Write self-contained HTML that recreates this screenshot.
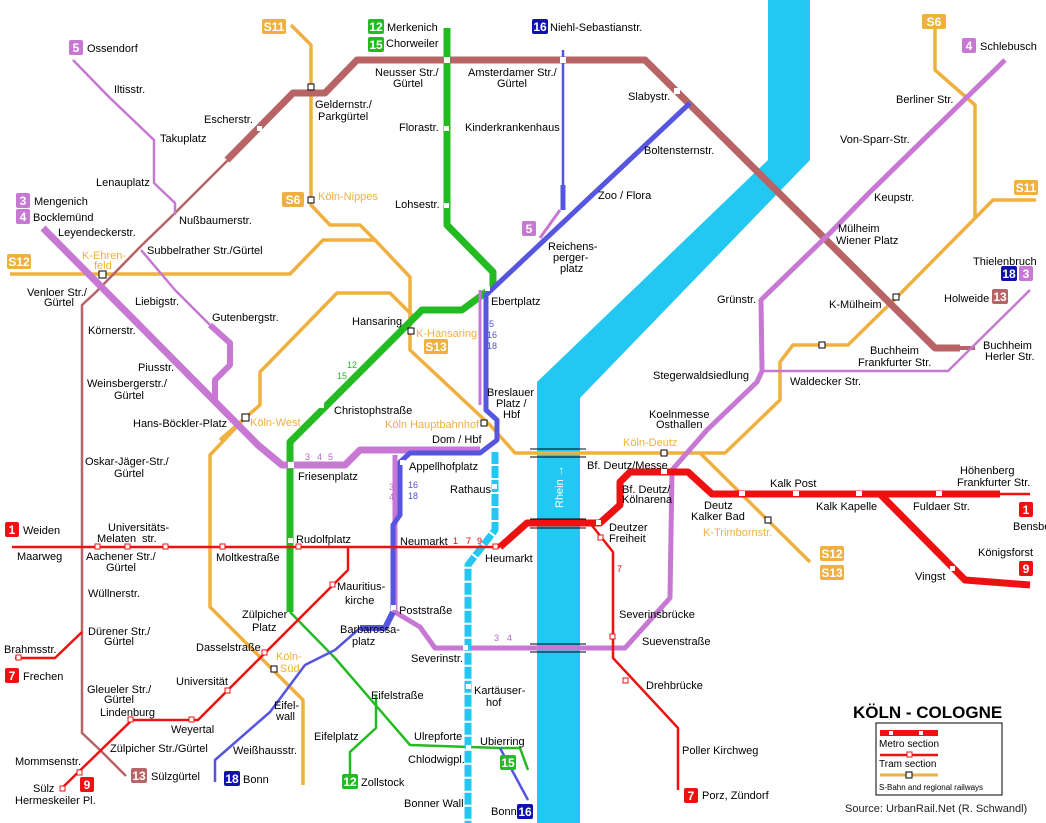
<!DOCTYPE html>
<html><head><meta charset="utf-8"><style>
html,body{margin:0;padding:0;background:#fff;width:1046px;height:823px;overflow:hidden}
svg{display:block}
text{font-family:"Liberation Sans",sans-serif;font-size:11px;fill:#000}
.o{fill:#f0b040}
.nb{font-weight:bold;fill:#fff;font-size:12px;text-anchor:middle}
.g{fill:#22bb22;font-size:9px}
.p{fill:#b070c0;font-size:9px}
.b{fill:#5050d0;font-size:9px}
.r{fill:#ee0000;font-size:9px}
</style></head><body>
<svg width="1046" height="823" viewBox="0 0 1046 823" xmlns="http://www.w3.org/2000/svg">
<g fill="none" stroke-linejoin="round">
<!-- river -->
<polygon points="768,0 810,0 810,160 580,398 580,823 537,823 537,382 768,160" fill="#22c8f2" stroke="none"/>
<!-- orange S-Bahn -->
<g stroke="#f0b040" stroke-width="3.5">
<polyline points="291,25 311,45 311,205 330,225 360,225 375,240 410,277 410,350 490,425 515,453 700,453"/>
<polyline points="10,274 290,274 323,240 375,240"/>
<polyline points="220,440 245,418 260,405 260,372 337,293 390,293 412,315"/>
<polyline points="245,418 210,455 210,607 303,700 303,785"/>
<polyline points="935,28 935,70 975,105 975,218"/>
<polyline points="700,453 725,453 780,400 780,362 793,345 848,345 897,297 993,200 1036,200"/>
<polyline points="700,453 810,562"/>
</g>
<!-- brown -->
<g stroke="#b86466">
<polyline points="228,160 173,215 141,246 95,293 82,305 82,733 100,750 126,776" stroke-width="2.5"/>
<polyline points="227,160 293,93 325,93 357,60 645,60 935,348 960,348" stroke-width="7"/>
<polyline points="960,348 975,348" stroke-width="4"/>
</g>
<!-- green -->
<g stroke="#22bb22">
<polyline points="447,28 447,225 493,272 493,287 462,310 422,310 290,442 290,612" stroke-width="7"/>
<polyline points="290,612 335,658 410,745 500,748 520,748 528,770" stroke-width="2.5"/>
<polyline points="376,695 376,728 350,752 350,775" stroke-width="2.5"/>
</g>
<!-- lilac -->
<g stroke="#c678d2">
<polyline points="73,60 109,97 154,140 154,183 175,203 175,215" stroke-width="2.5"/>
<polyline points="141,250 175,290 210,325" stroke-width="2.5"/>
<polyline points="210,325 230,343 230,365 215,380 215,400" stroke-width="6"/>
<polyline points="43,228 258,445 282,465 345,465 360,450 480,450" stroke-width="7"/>
<polyline points="480,290 480,405" stroke-width="3"/>
<polyline points="395,455 395,612 420,627 435,648 625,648 670,598 672,470 707,430 757,382 762,371 761,300 830,233 870,192 1005,60" stroke-width="5"/>
<polyline points="762,371 948,371 1030,290" stroke-width="2.5"/>
<polyline points="540,238 560,210" stroke-width="3"/>
</g>
<!-- blue -->
<g stroke="#5555e0">
<polyline points="563,50 563,185" stroke-width="2.5"/>
<polyline points="563,185 563,210" stroke-width="5"/>
<polyline points="690,103 486,295 486,410 497,420 497,440 480,453 410,453 400,462 400,515 393,525 393,610" stroke-width="5"/>
<polyline points="393,612 385,628 360,628" stroke-width="6"/>
<polyline points="360,628 335,650 305,665 270,712 215,760 215,782" stroke-width="2.5"/>
<polyline points="500,748 528,800" stroke-width="2.5"/>
</g>
<!-- cyan dashed -->
<polyline points="495,450 495,530 468,565 468,823" stroke="#22c8f2" stroke-width="7"/>
<polyline points="495,450 495,530 468,565 468,823" stroke="#fff" stroke-width="7" stroke-dasharray="2,12"/>
<!-- red -->
<g stroke="#ee1111">
<polyline points="12,547 500,547" stroke-width="2.5"/>
<polyline points="500,547 527,523 600,523 620,505 620,482 630,472 688,472 712,494 1000,494" stroke-width="7"/>
<polyline points="1000,494 1030,494" stroke-width="2.5"/>
<polyline points="880,494 965,580 1030,585" stroke-width="7"/>
<polyline points="590,523 613,552 613,658 678,728 678,790" stroke-width="2.5"/>
<polyline points="348,548 348,570 228,690 198,720 132,720 62,788" stroke-width="2.5"/>
<polyline points="82,632 55,658 15,658" stroke-width="2.5"/>
</g>
<!-- bridge marks -->
<g stroke="#000" stroke-width="1">
<line x1="530" y1="449" x2="586" y2="449"/><line x1="530" y1="457" x2="586" y2="457"/>
<line x1="530" y1="519" x2="586" y2="519"/><line x1="530" y1="528" x2="586" y2="528"/>
<line x1="530" y1="644" x2="586" y2="644"/><line x1="530" y1="652" x2="586" y2="652"/>
</g>
</g>
<!-- station markers -->
<g fill="#fff" stroke-width="1">
<g stroke="#000"><rect x="308" y="84" width="6" height="6"/><rect x="308" y="197" width="6" height="6"/><rect x="99" y="271" width="7" height="7"/><rect x="408" y="328" width="6" height="6"/><rect x="481" y="420" width="6" height="6"/><rect x="242" y="414" width="7" height="7"/><rect x="271" y="666" width="6" height="6"/><rect x="661" y="450" width="6" height="6"/><rect x="893" y="294" width="6" height="6"/><rect x="819" y="342" width="6" height="6"/><rect x="765" y="517" width="6" height="6"/></g>
<g stroke="#ee1111"><rect x="95" y="544" width="5" height="5"/><rect x="125" y="544" width="5" height="5"/><rect x="163" y="544" width="5" height="5"/><rect x="220" y="544" width="5" height="5"/><rect x="296" y="544" width="5" height="5"/><rect x="493" y="544" width="5" height="5"/><rect x="330" y="582" width="5" height="5"/><rect x="262" y="650" width="5" height="5"/><rect x="225" y="688" width="5" height="5"/><rect x="189" y="717" width="5" height="5"/><rect x="128" y="717" width="5" height="5"/><rect x="77" y="770" width="5" height="5"/><rect x="60" y="786" width="5" height="5"/><rect x="610" y="634" width="5" height="5"/><rect x="598" y="535" width="5" height="5"/><rect x="16" y="655" width="5" height="5"/><rect x="623" y="678" width="5" height="5"/></g>
<rect x="739" y="491" width="6" height="5"/><rect x="793" y="491" width="6" height="5"/><rect x="856" y="491" width="6" height="5"/><rect x="936" y="491" width="6" height="5"/><rect x="661" y="469" width="6" height="5"/><rect x="950" y="566" width="5" height="5"/><rect x="596" y="520" width="5" height="5"/>
<rect x="444" y="57" width="6" height="6"/><rect x="560" y="57" width="6" height="6"/><rect x="674" y="88" width="6" height="6"/><rect x="444" y="126" width="5" height="5"/><rect x="444" y="203" width="5" height="5"/><rect x="288" y="462" width="6" height="6"/><rect x="288" y="538" width="5" height="5"/><rect x="319" y="403" width="5" height="5"/><rect x="485" y="286" width="5" height="5"/><rect x="400" y="460" width="5" height="5"/><rect x="492" y="484" width="5" height="5"/><rect x="466" y="684" width="5" height="5"/><rect x="466" y="745" width="5" height="5"/><rect x="391" y="605" width="5" height="5"/><rect x="463" y="645" width="5" height="5"/><rect x="257" y="126" width="5" height="5"/><rect x="213" y="416" width="5" height="5"/>
</g>
<!-- number boxes -->
<g>
<rect x="262" y="19" width="24" height="15" rx="2" fill="#f0b040"/><text x="274" y="31" class="nb">S11</text>
<rect x="368" y="19" width="16" height="15" rx="2" fill="#22bb22"/><text x="376" y="31" class="nb">12</text>
<rect x="368" y="37" width="16" height="15" rx="2" fill="#22bb22"/><text x="376" y="49" class="nb">15</text>
<rect x="532" y="19" width="16" height="15" rx="2" fill="#1010b0"/><text x="540" y="31" class="nb">16</text>
<rect x="69" y="40" width="14" height="15" rx="2" fill="#c678d2"/><text x="76" y="52" class="nb">5</text>
<rect x="922" y="14" width="24" height="15" rx="2" fill="#f0b040"/><text x="934" y="26" class="nb">S6</text>
<rect x="962" y="38" width="14" height="15" rx="2" fill="#c678d2"/><text x="969" y="50" class="nb">4</text>
<rect x="16" y="193" width="14" height="15" rx="2" fill="#c678d2"/><text x="23" y="205" class="nb">3</text>
<rect x="16" y="209" width="14" height="15" rx="2" fill="#c678d2"/><text x="23" y="221" class="nb">4</text>
<rect x="282" y="192" width="22" height="15" rx="2" fill="#f0b040"/><text x="293" y="204" class="nb">S6</text>
<rect x="7" y="254" width="24" height="15" rx="2" fill="#f0b040"/><text x="19" y="266" class="nb">S12</text>
<rect x="1014" y="180" width="24" height="15" rx="2" fill="#f0b040"/><text x="1026" y="192" class="nb">S11</text>
<rect x="522" y="221" width="14" height="15" rx="2" fill="#c678d2"/><text x="529" y="233" class="nb">5</text>
<rect x="1001" y="266" width="16" height="15" rx="2" fill="#1010b0"/><text x="1009" y="278" class="nb">18</text>
<rect x="1019" y="266" width="14" height="15" rx="2" fill="#c678d2"/><text x="1026" y="278" class="nb">3</text>
<rect x="992" y="289" width="16" height="15" rx="2" fill="#b86466"/><text x="1000" y="301" class="nb">13</text>
<rect x="424" y="339" width="24" height="15" rx="2" fill="#f0b040"/><text x="436" y="351" class="nb">S13</text>
<rect x="5" y="522" width="14" height="15" rx="2" fill="#ee1111"/><text x="12" y="534" class="nb">1</text>
<rect x="1019" y="502" width="14" height="15" rx="2" fill="#ee1111"/><text x="1026" y="514" class="nb">1</text>
<rect x="1019" y="561" width="14" height="15" rx="2" fill="#ee1111"/><text x="1026" y="573" class="nb">9</text>
<rect x="820" y="546" width="24" height="15" rx="2" fill="#f0b040"/><text x="832" y="558" class="nb">S12</text>
<rect x="820" y="565" width="24" height="15" rx="2" fill="#f0b040"/><text x="832" y="577" class="nb">S13</text>
<rect x="5" y="668" width="14" height="15" rx="2" fill="#ee1111"/><text x="12" y="680" class="nb">7</text>
<rect x="80" y="777" width="14" height="15" rx="2" fill="#ee1111"/><text x="87" y="789" class="nb">9</text>
<rect x="131" y="768" width="16" height="15" rx="2" fill="#b86466"/><text x="139" y="780" class="nb">13</text>
<rect x="224" y="771" width="16" height="15" rx="2" fill="#1010b0"/><text x="232" y="783" class="nb">18</text>
<rect x="342" y="774" width="16" height="15" rx="2" fill="#22bb22"/><text x="350" y="786" class="nb">12</text>
<rect x="500" y="755" width="16" height="15" rx="2" fill="#22bb22"/><text x="508" y="767" class="nb">15</text>
<rect x="517" y="804" width="16" height="15" rx="2" fill="#1010b0"/><text x="525" y="816" class="nb">16</text>
<rect x="684" y="788" width="14" height="15" rx="2" fill="#ee1111"/><text x="691" y="800" class="nb">7</text>
</g>
<!-- labels -->
<g>
<text x="387" y="31">Merkenich</text><text x="386" y="47">Chorweiler</text><text x="550" y="31">Niehl-Sebastianstr.</text>
<text x="87" y="52">Ossendorf</text><text x="980" y="50">Schlebusch</text>
<text x="375" y="76">Neusser Str./</text><text x="393" y="87">Gürtel</text>
<text x="468" y="76">Amsterdamer Str./</text><text x="497" y="87">Gürtel</text>
<text x="114" y="93">Iltisstr.</text><text x="315" y="108">Geldernstr./</text><text x="318" y="120">Parkgürtel</text>
<text x="628" y="100">Slabystr.</text><text x="896" y="103">Berliner Str.</text>
<text x="204" y="123">Escherstr.</text><text x="399" y="131">Florastr.</text><text x="465" y="131">Kinderkrankenhaus</text>
<text x="160" y="142">Takuplatz</text><text x="644" y="154">Boltensternstr.</text><text x="840" y="143">Von-Sparr-Str.</text>
<text x="96" y="186">Lenauplatz</text><text x="598" y="199">Zoo / Flora</text><text x="874" y="201">Keupstr.</text>
<text x="318" y="200" class="o">Köln-Nippes</text><text x="395" y="208">Lohsestr.</text>
<text x="34" y="205">Mengenich</text><text x="33" y="221">Bocklemünd</text><text x="179" y="224">Nußbaumerstr.</text>
<text x="58" y="236">Leyendeckerstr.</text><text x="838" y="232">Mülheim</text><text x="836" y="244">Wiener Platz</text>
<text x="548" y="250">Reichens-</text><text x="553" y="261">perger-</text><text x="560" y="272">platz</text>
<text x="147" y="254">Subbelrather Str./Gürtel</text><text x="82" y="259" class="o">K-Ehren-</text><text x="94" y="269" class="o">feld</text>
<text x="973" y="265">Thielenbruch</text>
<text x="27" y="296">Venloer Str./</text><text x="44" y="306">Gürtel</text><text x="135" y="305">Liebigstr.</text><text x="491" y="305">Ebertplatz</text>
<text x="717" y="303">Grünstr.</text><text x="829" y="308">K-Mülheim</text><text x="944" y="302">Holweide</text>
<text x="212" y="321">Gutenbergstr.</text><text x="352" y="325">Hansaring</text><text x="416" y="337" class="o">K-Hansaring</text>
<text x="88" y="334">Körnerstr.</text><text x="983" y="349">Buchheim</text><text x="985" y="360">Herler Str.</text>
<text x="870" y="354">Buchheim</text><text x="858" y="366">Frankfurter Str.</text>
<text x="138" y="371">Piusstr.</text><text x="653" y="379">Stegerwaldsiedlung</text><text x="790" y="385">Waldecker Str.</text>
<text x="87" y="387">Weinsbergerstr./</text><text x="114" y="399">Gürtel</text>
<text x="487" y="396">Breslauer</text><text x="496" y="407">Platz /</text><text x="503" y="418">Hbf</text>
<text x="334" y="414">Christophstraße</text><text x="649" y="418">Koelnmesse</text><text x="656" y="428">Osthallen</text>
<text x="133" y="427">Hans-Böckler-Platz</text><text x="250" y="426" class="o">Köln-West</text>
<text x="385" y="428" class="o">Köln Hauptbahnhof</text><text x="432" y="443">Dom / Hbf</text><text x="623" y="446" class="o">Köln-Deutz</text>
<text x="85" y="465">Oskar-Jäger-Str./</text><text x="114" y="477">Gürtel</text>
<text x="298" y="480">Friesenplatz</text><text x="409" y="470">Appellhofplatz</text><text x="587" y="469">Bf. Deutz/Messe</text>
<text x="960" y="474">Höhenberg</text><text x="957" y="486">Frankfurter Str.</text>
<text x="450" y="493">Rathaus</text><text x="622" y="493">Bf. Deutz/</text><text x="622" y="503">Kölnarena</text><text x="770" y="487">Kalk Post</text>
<text x="704" y="509">Deutz</text><text x="691" y="520">Kalker Bad</text><text x="816" y="510">Kalk Kapelle</text><text x="913" y="510">Fuldaer Str.</text>
<text x="23" y="534">Weiden</text><text x="108" y="531">Universitäts-</text><text x="142" y="542">str.</text><text x="97" y="542">Melaten</text>
<text x="609" y="531">Deutzer</text><text x="609" y="542">Freiheit</text><text x="703" y="536" class="o">K-Trimbornstr.</text><text x="1013" y="530">Bensberg</text>
<text x="296" y="543">Rudolfplatz</text><text x="400" y="545">Neumarkt</text><text x="453" y="544" class="r">1</text><text x="466" y="544" class="r">7</text><text x="477" y="544" class="r">9</text>
<text x="17" y="560">Maarweg</text><text x="86" y="560">Aachener Str./</text><text x="106" y="571">Gürtel</text><text x="216" y="561">Moltkestraße</text>
<text x="485" y="562">Heumarkt</text><text x="978" y="556">Königsforst</text><text x="915" y="580">Vingst</text>
<text x="88" y="597">Wüllnerstr.</text><text x="337" y="590">Mauritius-</text><text x="345" y="604">kirche</text>
<text x="242" y="618">Zülpicher</text><text x="252" y="631">Platz</text><text x="399" y="614">Poststraße</text><text x="619" y="618">Severinsbrücke</text>
<text x="88" y="635">Dürener Str./</text><text x="104" y="645">Gürtel</text><text x="642" y="645">Suevenstraße</text>
<text x="340" y="633">Barbarossa-</text><text x="352" y="645">platz</text>
<text x="4" y="653">Brahmsstr.</text><text x="196" y="651">Dasselstraße</text><text x="276" y="660" class="o">Köln-</text><text x="280" y="672" class="o">Süd</text><text x="411" y="662">Severinstr.</text>
<text x="23" y="680">Frechen</text><text x="176" y="685">Universität</text><text x="646" y="689">Drehbrücke</text>
<text x="87" y="693">Gleueler Str./</text><text x="104" y="703">Gürtel</text><text x="100" y="716">Lindenburg</text><text x="474" y="694">Kartäuser-</text><text x="486" y="706">hof</text><text x="371" y="699">Eifelstraße</text>
<text x="274" y="709">Eifel-</text><text x="276" y="720">wall</text><text x="171" y="733">Weyertal</text>
<text x="314" y="740">Eifelplatz</text><text x="414" y="740">Ulrepforte</text><text x="480" y="745">Ubierring</text>
<text x="110" y="752">Zülpicher Str./Gürtel</text><text x="233" y="754">Weißhausstr.</text><text x="682" y="754">Poller Kirchweg</text><text x="408" y="763">Chlodwigpl.</text>
<text x="15" y="765">Mommsenstr.</text><text x="151" y="780">Sülzgürtel</text><text x="243" y="783">Bonn</text><text x="361" y="786">Zollstock</text>
<text x="33" y="792">Sülz</text><text x="15" y="804">Hermeskeiler Pl.</text><text x="702" y="799">Porz, Zündorf</text>
<text x="404" y="807">Bonner Wall</text><text x="491" y="815">Bonn</text>
<text x="347" y="368" class="g">12</text><text x="337" y="379" class="g">15</text><text x="489" y="327" class="b">5</text><text x="487" y="338" class="b">16</text><text x="487" y="349" class="b">18</text>
<text x="305" y="460" class="p">3</text><text x="317" y="460" class="p">4</text><text x="328" y="460" class="p">5</text>
<text x="389" y="490" class="p">3</text><text x="389" y="500" class="p">4</text><text x="408" y="488" class="b">16</text><text x="408" y="499" class="b">18</text>
<text x="494" y="641" class="p">3</text><text x="507" y="641" class="p">4</text><text x="617" y="572" class="r">7</text>
<text x="563" y="508" transform="rotate(-90 563 508)" style="fill:#fff;font-size:11px">Rhein →</text>
</g>
<!-- legend -->
<text x="853" y="718" style="font-size:17px;font-weight:bold">KÖLN - COLOGNE</text>
<rect x="876" y="723" width="126" height="72" fill="#fff" stroke="#000"/>
<rect x="880" y="730" width="58" height="6" fill="#ee1111"/><rect x="889" y="731" width="4" height="4" fill="#fff"/><rect x="919" y="731" width="4" height="4" fill="#fff"/>
<text x="879" y="747" style="font-size:10px">Metro section</text>
<line x1="880" y1="755" x2="938" y2="755" stroke="#ee1111" stroke-width="2.5"/><rect x="907" y="752" width="5" height="5" fill="#fff" stroke="#ee1111"/>
<text x="879" y="767" style="font-size:10px">Tram section</text>
<line x1="880" y1="775" x2="938" y2="775" stroke="#f0b040" stroke-width="3"/><rect x="906" y="772" width="6" height="6" fill="#fff" stroke="#000"/>
<text x="879" y="790" style="font-size:8px">S-Bahn and regional railways</text>
<text x="845" y="812" style="font-size:11px;fill:#222">Source: UrbanRail.Net (R. Schwandl)</text>
</svg>
</body></html>
